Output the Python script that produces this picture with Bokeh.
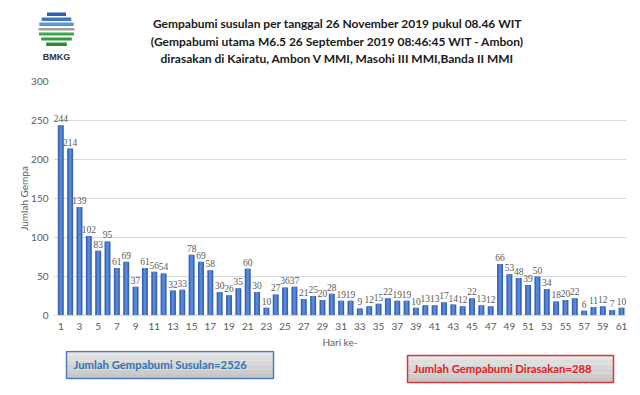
import math
from bokeh.plotting import figure
from bokeh.models import ColumnDataSource, LabelSet, FixedTicker
from bokeh.core.properties import value
from bokeh.embed import file_html
from bokeh.resources import INLINE

days = list(range(1, 62))
counts = [244, 214, 139, 102, 83, 95, 61, 69, 37, 61,
          56, 54, 32, 33, 78, 69, 58, 30, 26, 35,
          60, 30, 10, 27, 36, 37, 21, 25, 20, 28,
          19, 19, 9, 12, 15, 22, 19, 19, 10, 13,
          13, 17, 14, 12, 22, 13, 12, 66, 53, 48,
          39, 50, 34, 18, 20, 22, 6, 11, 12, 7, 10]
x_ticks = list(range(1, 62, 2))
y_ticks = [0, 50, 100, 150, 200, 250, 300]

title_lines = [
    "Gempabumi susulan per tanggal 26 November 2019 pukul 08.46 WIT",
    "(Gempabumi utama M6.5 26 September 2019 08:46:45 WIT - Ambon)",
    "dirasakan di Kairatu, Ambon V MMI, Masohi III MMI,Banda II MMI",
]
total_susulan = "Jumlah Gempabumi Susulan=2526"
total_dirasakan = "Jumlah Gempabumi Dirasakan=288"

W = 640


def blank(h):
    f = figure(width=W, height=h, output_backend="svg", toolbar_location=None,
               x_range=(0, W), y_range=(0, h), min_border=0,
               x_axis_location=None, y_axis_location=None)
    f.grid.visible = False
    f.outline_line_color = None
    f.background_fill_color = "white"
    f.border_fill_color = "white"
    return f


# ---------------- header (logo + title) ----------------
H1 = 72
top = blank(H1)
top.text(x=[337] * 3, y=[H1 - 22.5, H1 - 40.5, H1 - 57.5], text=title_lines,
         text_align="center", text_baseline="middle",
         text_font=value("Lato"), text_font_style="bold",
         text_font_size="12px", text_color="#1a1a1a")

# BMKG logo (decorative)
lx, r = 56, 18
stripes = [(12, 15.5, "#2f5fa8"), (17, 20.5, "#3b78c0"), (22, 25.5, "#5a96d2"),
           (27.5, 30, "#a0a0a0"), (32, 35, "#3aa84a"), (37, 40, "#2f9a3f"),
           (42, 45.5, "#2a8a36")]
for t_y, b_y, col in stripes:
    mid = (t_y + b_y) / 2.0
    dy = abs(mid - 29)
    half = math.sqrt(max(r * r - dy * dy, 0))
    top.quad(left=[lx - half], right=[lx + half], top=[H1 - t_y], bottom=[H1 - b_y],
             fill_color=col, line_color=None)
top.text(x=[lx], y=[H1 - 56], text=["BMKG"], text_align="center",
         text_baseline="middle", text_font=value("Liberation Sans"),
         text_font_style="bold", text_font_size="9px", text_color="#333333")

# ---------------- main chart ----------------
src = ColumnDataSource(dict(x=days, y=counts, t=[str(c) for c in counts]))

p = figure(width=W, height=278, output_backend="svg", toolbar_location=None,
           x_range=(0.22, 61.53), y_range=(0, 300),
           min_border_left=53, min_border_right=14,
           min_border_top=9, min_border_bottom=35)
p.outline_line_color = None
p.background_fill_color = "white"
p.border_fill_color = "white"

p.vbar(x="x", top="y", width=0.64, source=src, fill_color="#3863b3", line_color=None)
p.vbar(x="x", top="y", width=0.3, source=src, fill_color="#5888d8", line_color=None)

labels = LabelSet(x="x", y="y", text="t", source=src, text_align="center",
                  text_baseline="bottom", y_offset=3, text_font="Lato",
                  text_font_size="9.5px", text_color="#595959")
p.add_layout(labels)

p.xgrid.grid_line_color = None
p.ygrid.grid_line_color = "#d9d9d9"
p.ygrid.ticker = FixedTicker(ticks=y_ticks)

p.xaxis.ticker = FixedTicker(ticks=x_ticks)
p.yaxis.ticker = FixedTicker(ticks=y_ticks)
for ax in (p.xaxis[0], p.yaxis[0]):
    ax.major_tick_line_color = None
    ax.minor_tick_line_color = None
    ax.major_tick_out = 0
    ax.major_tick_in = 0
    ax.minor_tick_out = 0
    ax.major_label_text_font = "Lato"
    ax.major_label_text_font_size = "10px"
    ax.major_label_text_color = "#595959"
    ax.axis_label_text_font = "Lato"
    ax.axis_label_text_font_size = "10px"
    ax.axis_label_text_font_style = "normal"
    ax.axis_label_text_color = "#595959"
p.yaxis.axis_line_color = None
p.xaxis.axis_line_color = "#d9d9d9"
p.xaxis.major_label_standoff = 7
p.yaxis.major_label_standoff = 5
p.xaxis.axis_label = "Hari ke-"
p.yaxis.axis_label = "Jumlah Gempa"
p.xaxis.axis_label_standoff = 3
p.yaxis.axis_label_standoff = -2

# ---------------- footer (summary boxes) ----------------
H3 = 43
Y0 = 350  # page y of footer top
bot = blank(H3)


def box(x0, x1, y0, y1, edge):
    # y0, y1 in page coordinates (top, bottom)
    shades = ["#e6e6e6", "#dedede", "#d8d8d8", "#d2d2d2", "#cccccc", "#c6c6c6"]
    n = len(shades)
    hgt = (y1 - y0) / n
    for i in range(n):
        yt = y0 + i * hgt
        bot.quad(left=[x0], right=[x1], top=[H3 - (yt - Y0)],
                 bottom=[H3 - (yt + hgt - Y0)], fill_color=shades[i], line_color=None)
    bot.quad(left=[x0], right=[x1], top=[H3 - (y0 - Y0)],
             bottom=[H3 - (y1 - Y0)], fill_color=None, line_color=edge, line_width=1.5)


box(66, 273, 351, 378, "#4a7ebb")
box(407, 613, 355, 382, "#d9363a")
bot.text(x=[73], y=[H3 - (363.5 - Y0)], text=[total_susulan], text_align="left",
         text_baseline="middle", text_font=value("Lato"), text_font_style="bold",
         text_font_size="11.3px", text_color="#2e75b6")
bot.text(x=[413], y=[H3 - (367.5 - Y0)], text=[total_dirasakan], text_align="left",
         text_baseline="middle", text_font=value("Lato"), text_font_style="bold",
         text_font_size="11.3px", text_color="#e02020")

open("out.html", "w").write(file_html([top, p, bot], INLINE))
